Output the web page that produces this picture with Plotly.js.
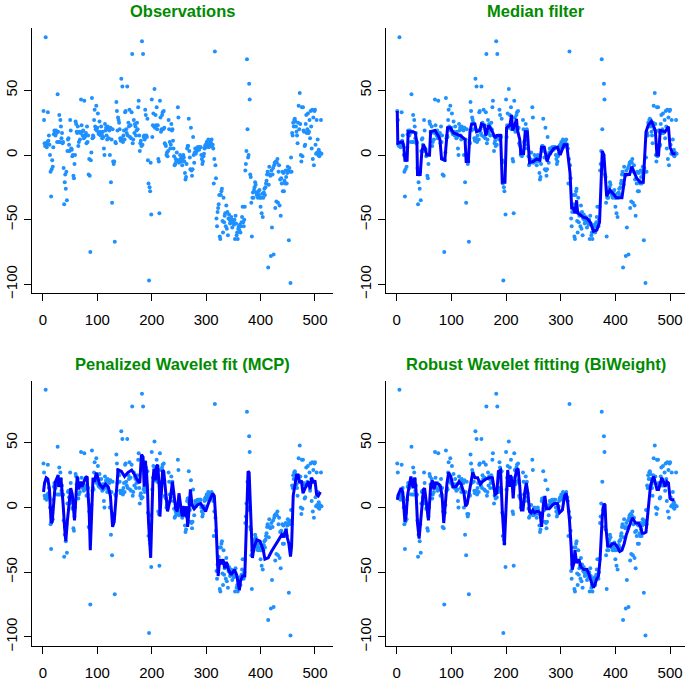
<!DOCTYPE html>
<html>
<head>
<meta charset="utf-8">
<script src="https://cdn.plot.ly/plotly-3.0.1.min.js"></script>
<style>html,body{margin:0;padding:0;background:#fff;}#chart{width:685px;height:681px;}</style>
</head>
<body>
<div id="chart"></div>
<script>
// Observations (index 1..512)
const obs = [
34,27,9,7,91,8,6,10,33,11,15,8,0,-13,-32,-11,
-4,-9,6,16,19,18,15,19,17,10,47,18,10,31,10,27,
22,13,17,9,10,-10,-38,-21,-15,-26,-13,-35,3,12,13,8,
3,27,19,5,4,-1,0,-16,-18,-7,0,26,24,18,17,22,
7,10,18,12,17,43,23,18,15,19,13,42,14,15,17,9,
22,10,15,-15,-3,-16,-75,-4,2,44,13,15,14,27,35,22,
20,38,19,21,32,17,16,26,18,15,22,16,13,18,14,5,
0,24,19,21,15,12,22,20,13,19,0,21,-21,12,-37,20,
-5,-7,-5,-67,10,9,41,34,19,29,27,25,20,13,11,59,
13,53,10,15,19,12,33,34,20,17,53,15,25,22,35,14,
23,13,33,78,9,12,27,17,24,22,15,19,25,20,37,42,
15,3,9,11,7,88,8,78,14,15,12,35,31,15,14,28,
-4,-22,-97,-25,-28,-6,-46,43,14,23,32,22,51,21,31,23,
37,20,23,-3,-5,-45,42,29,18,20,31,33,20,34,21,9,
8,7,0,2,-1,3,27,20,10,5,8,24,19,20,11,5,
-1,-8,-7,-3,-5,2,-4,37,29,-6,-4,0,-3,-5,-2,-8,
-4,0,-2,-5,-14,-19,-17,-7,5,7,7,28,3,-2,-11,21,
-12,-16,-11,14,0,-6,2,5,1,4,3,6,5,6,4,6,
6,6,0,-3,-7,-5,-1,1,5,7,8,6,10,7,9,12,
6,8,7,10,9,12,7,8,5,-22,-3,80,-8,-18,-49,-55,
-44,-41,-38,-31,-63,-65,-31,-28,-26,-51,-60,-33,-52,-47,-45,-55,
-39,-57,-44,-62,-49,-46,-50,-53,-52,-48,-50,-56,-52,-51,-54,-50,
-65,-47,-53,-62,-60,-65,-57,-55,-58,-54,-60,-55,-52,-48,-40,-52,
-55,-50,-40,-12,-7,3,74,20,-2,0,55,43,-15,-17,-37,-63,
-33,-29,-33,-27,-25,-21,-23,-29,-31,-30,-33,-28,-31,-27,-33,-40,
-33,-45,-30,-48,-33,-29,-26,-31,-25,-22,-20,-15,-13,-87,-23,-9,
-15,-16,-78,-12,-56,-15,-10,-77,-8,-6,-41,-5,-36,-6,-3,-37,
-13,-8,-39,-19,-47,-18,-22,-13,-28,-14,-28,-20,-22,-12,-17,-22,
-14,-9,-12,-66,-10,-13,-99,-2,-13,17,15,25,22,27,28,26,
22,18,15,9,25,38,20,48,24,0,-5,37,-1,37,19,18,
7,8,24,31,17,20,32,17,18,27,13,34,22,5,35,-3,
29,-8,34,35,8,1,27,2,12,0,4,-1,2,1,27,1
];
const obsX = obs.map((v, i) => i + 1);

// Median filter
const medX = [1,2,8,11,13,15,19,21,30,34,37,38,43,46,49,52,55,60,62,70,76,79,82,88,93,98,104,116,122,125,127,131,134,137,143,146,152,155,160,163,168,174,180,183,190,193,198,201,207,210,212,216,219,221,225,227,232,235,239,243,250,256,262,265,270,275,279,287,294,299,306,311,317,320,323,326,329,331,335,341,348,354,360,366,371,373,376,379,384,390,396,402,412,415,418,426,430,434,439,445,451,456,460,466,473,476,479,482,491,497,500,505,510];
const medY = [34,9,10,10,6,-4,-4,18,18,17,9,-15,-15,3,8,5,0,0,18,19,15,12,-3,-4,21,21,17,15,13,12,-5,-5,18,24,24,18,19,24,23,15,23,19,13,15,15,-21,-21,21,23,31,19,23,28,19,12,1,1,18,18,-6,-5,-3,-4,6,6,-5,0,5,6,0,8,8,-14,-41,-41,-45,-35,-45,-46,-48,-49,-52,-59,-58,-52,-24,3,0,-32,-27,-30,-33,-33,-24,-15,-15,-9,-13,-18,-21,-21,18,23,26,19,0,0,19,18,22,6,1,1];

// Penalized wavelet fit (MCP)
const mcpX = [1,3,6,9,12,15,17,20,23,28,29,33,34,37,40,42,45,48,51,54,58,61,63,66,69,72,75,78,81,85,87,90,92,95,98,101,104,110,115,120,124,128,131,134,138,144,150,156,163,169,175,178,181,184,186,188,190,192,194,198,200,202,204,207,209,211,214,215,218,220,222,225,229,232,234,238,240,244,247,250,253,256,258,261,264,266,269,271,274,278,284,290,296,299,304,308,312,315,318,321,322,325,328,331,334,337,341,346,352,356,359,361,363,367,371,374,377,379,382,385,388,393,399,405,408,414,420,429,439,442,447,449,452,455,457,460,463,466,469,472,475,478,485,488,491,494,497,500,503,506,510];
const mcpY = [12,19,23,22,14,-12,-11,3,20,25,16,23,19,3,-17,-26,-10,6,15,10,-10,11,24,14,20,16,20,23,24,-4,-33,3,23,20,27,23,18,15,18,16,9,-15,-11,6,29,28,24,27,29,25,20,19,41,39,16,36,29,16,-11,-39,-7,20,30,21,32,33,14,-7,14,29,28,14,-3,3,6,20,11,-1,-3,11,2,-7,1,-7,1,-15,1,14,2,-1,2,3,-1,-3,3,7,11,9,-12,-43,-53,-40,-44,-40,-47,-42,-48,-52,-48,-52,-59,-64,-57,-53,-53,-7,28,27,-7,-39,-31,-25,-26,-33,-40,-39,-34,-28,-21,-23,-17,-23,-28,-38,-30,9,19,25,25,19,21,11,18,20,14,23,19,21,10,9,12];

// Robust wavelet fitting (BiWeight)
const bwX = [1,3,8,11,15,17,20,23,26,30,33,35,38,41,44,49,51,54,58,62,65,68,71,77,80,83,86,89,92,95,99,103,108,114,118,123,126,129,134,139,143,148,153,157,163,169,175,180,183,186,190,193,197,199,202,203,206,208,211,213,215,219,222,225,228,231,234,237,240,243,246,249,252,256,259,262,265,268,271,274,279,285,289,294,298,303,307,310,313,316,319,321,324,326,329,333,337,342,348,352,357,360,363,366,369,372,376,379,381,383,386,391,394,399,403,408,412,416,420,425,428,431,434,437,442,446,449,452,456,460,464,467,470,473,476,479,482,485,488,491,494,497,500,503,508];
const bwY = [6,10,15,12,-11,-7,10,18,24,15,23,15,-12,-24,-10,14,15,2,-10,16,21,14,19,18,16,9,-12,3,19,27,24,16,16,20,18,11,1,3,16,27,23,23,18,20,22,23,23,10,11,28,29,-2,-29,-12,23,29,16,25,20,7,19,29,30,17,-2,-2,11,19,11,-3,-4,-2,-4,-3,-3,-4,-15,1,9,-1,-1,2,3,3,-4,-2,9,11,3,-10,-30,-48,-43,-33,-43,-40,-46,-48,-48,-52,-59,-62,-59,-55,-53,-40,-7,3,2,-17,-30,-30,-28,-28,-30,-34,-33,-28,-21,-15,-11,-8,-10,-12,-12,-15,-20,-20,-19,1,16,21,24,19,14,14,18,23,20,16,20,19,7,6,6];

// Panel titles and ticks
const titles = ["Observations", "Median filter", "Penalized Wavelet fit (MCP)", "Robust Wavelet fitting (BiWeight)"];
const xTicks = [0, 100, 200, 300, 400, 500];
const yTicks = [-100, -50, 0, 50];

const W = 685, H = 681;
const ptColor = "#1E90FF", lineColor = "#0000FF", titleColor = "#008B00";
const font = "Liberation Sans, Arial, Helvetica, sans-serif";

// pixel layout of the four plot regions
const cols = [[32.4, 332.6, -19.4, 532.4], [386, 685, -19.6, 527.3]];
const rows = [[28, 293], [380.5, 645.5]];
const yRange = [-106.7, 98.2];

const traces = [];
const lines = [null, [medX, medY], [mcpX, mcpY], [bwX, bwY]];
const layout = {
  width: W, height: H, margin: {l: 0, r: 0, t: 0, b: 0},
  paper_bgcolor: "#fff", plot_bgcolor: "#fff", showlegend: false,
  font: {family: font, color: "#000"},
  annotations: []
};
for (let p = 0; p < 4; p++) {
  const c = cols[p % 2], r = rows[Math.floor(p / 2)];
  const sx = p === 0 ? "" : String(p + 1);
  const xa = "xaxis" + sx, ya = "yaxis" + sx;
  layout[xa] = {
    domain: [c[0] / W, c[1] / W], range: [c[2], c[3]], anchor: "y" + sx,
    tickmode: "array", tickvals: xTicks, ticktext: xTicks.map(String),
    ticks: "outside", ticklen: 7, tickwidth: 1, tickcolor: "#000", ticklabelstandoff: 6,
    showline: true, linecolor: "#000", linewidth: 1, showgrid: false, zeroline: false,
    tickfont: {size: 15, family: font, color: "#000"}
  };
  layout[ya] = {
    domain: [1 - r[1] / H, 1 - r[0] / H], range: yRange, anchor: "x" + sx,
    tickmode: "array", tickvals: yTicks, ticktext: yTicks.map(v => v < 0 ? "\u2212" + (-v) : String(v)),
    ticks: "outside", ticklen: 7, tickwidth: 1, tickcolor: "#000", tickangle: -90, ticklabelstandoff: 1,
    showline: true, linecolor: "#000", linewidth: 1, showgrid: false, zeroline: false,
    tickfont: {size: 15, family: font, color: "#000"}
  };
  traces.push({
    type: "scatter", mode: "markers", x: obsX, y: obs, xaxis: "x" + sx, yaxis: "y" + sx,
    marker: {color: ptColor, size: 4, line: {width: 0}}, hoverinfo: "skip", cliponaxis: false
  });
  if (lines[p]) {
    traces.push({
      type: "scatter", mode: "lines", x: lines[p][0], y: lines[p][1], xaxis: "x" + sx, yaxis: "y" + sx,
      line: {color: lineColor, width: 3}, hoverinfo: "skip"
    });
  }
  layout.annotations.push({
    text: "<b>" + titles[p] + "</b>", xref: "paper", yref: "paper",
    x: (c[0] + Math.min(c[1], c[0] + 300)) / 2 / W, y: 1 - (r[0] - 17) / H,
    xanchor: "center", yanchor: "middle", showarrow: false,
    font: {size: 16.5, family: font, color: titleColor}
  });
}
Plotly.newPlot("chart", traces, layout, {staticPlot: true, displayModeBar: false});
</script>
</body>
</html>
